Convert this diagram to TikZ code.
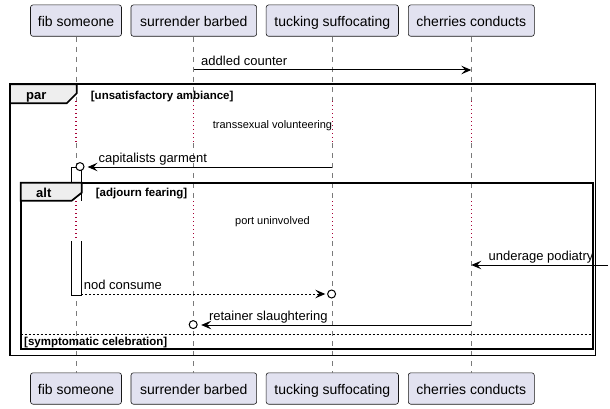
\documentclass[tikz,border=0pt]{standalone}
\usepackage{fontspec}
\setmainfont{Liberation Sans}
\usetikzlibrary{arrows.meta}
\definecolor{boxfill}{HTML}{E2E2F0}
\definecolor{boxline}{HTML}{181818}
\definecolor{lifegray}{HTML}{7A7A7A}
\definecolor{delayred}{HTML}{A80036}
\definecolor{tabfill}{HTML}{EEEEEE}
\begin{document}
\begin{tikzpicture}[x=1pt,y=-1pt,
  partbox/.style={draw=boxline, fill=boxfill, rounded corners=2.5pt, line width=0.6pt,
    minimum height=31.4pt, inner sep=0pt, text height=12pt, text depth=0pt,
    font=\fontsize{14}{16}\selectfont},
  lifeline/.style={draw=lifegray, line width=0.8pt, dash pattern=on 5pt off 5pt},
  delayline/.style={draw=delayred, line width=1.2pt, dash pattern=on 1.2pt off 2.8pt},
  msg/.style={draw=black, line width=1pt, -{Stealth[length=10pt,width=8.5pt,inset=4pt]}},
  rmsg/.style={msg, dash pattern=on 2pt off 2pt},
  msglabel/.style={anchor=base west, inner sep=0pt, font=\fontsize{13}{15}\selectfont},
  delaytext/.style={inner sep=0pt, font=\fontsize{11}{13}\selectfont},
  grpname/.style={anchor=base west, inner sep=0pt, font=\fontsize{13}{15}\selectfont\bfseries},
  grpcond/.style={anchor=base west, inner sep=0pt, font=\fontsize{11.5}{13}\selectfont\bfseries},
  frameline/.style={draw=black, line width=1.7pt},
  tabshape/.style={frameline, fill=tabfill},
  lostcircle/.style={draw=black, circle, minimum size=8pt, inner sep=0pt, fill=white, line width=1pt},
  actbar/.style={draw=black, fill=white, line width=0.8pt}]
\useasboundingbox (0,0) rectangle (610,409);

% participants
\node[partbox, minimum width=91pt]    (t1) at (76,20.6)    {fib someone};
\node[partbox, minimum width=125.7pt] (t2) at (193.8,20.6) {surrender barbed};
\node[partbox, minimum width=132.3pt] (t3) at (332.3,20.6) {tucking suffocating};
\node[partbox, minimum width=126pt]   (t4) at (471.3,20.6) {cherries conducts};
\node[partbox, minimum width=91pt]    (b1) at (76,388.5)    {fib someone};
\node[partbox, minimum width=125.7pt] (b2) at (193.8,388.5) {surrender barbed};
\node[partbox, minimum width=132.3pt] (b3) at (332.3,388.5) {tucking suffocating};
\node[partbox, minimum width=126pt]   (b4) at (471.3,388.5) {cherries conducts};

% lifelines
\foreach \n in {1,2,3,4} {
  \draw[lifeline]  (t\n.south) -- (t\n.south |- 0,101);
  \draw[delayline] (t\n.south |- 0,101) -- (t\n.south |- 0,143);
  \draw[lifeline]  (t\n.south |- 0,143) -- (t\n.south |- 0,201);
  \draw[delayline] (t\n.south |- 0,201) -- (t\n.south |- 0,241);
  \draw[lifeline]  (t\n.south |- 0,241) -- (b\n.north);
}

% activation bar of fib someone
\draw[actbar] (71,201) -- (71,167) -- (81,167) -- (81,201);
\draw[actbar] (71,241) -- (71,295) -- (81,295) -- (81,241);

% par frame
\draw[frameline] (10,84.3) rectangle (595.5,355.5);
\draw[tabshape] (10,84.3) -- (76.7,84.3) -- (76.7,93.3) -- (66.7,103.3) -- (10,103.3) -- cycle;
\node[grpname] (parlbl) at (26,99.6) {par};
\node[grpcond] (parcond) at (90.7,99.3) {[unsatisfactory ambiance]};

% alt frame
\draw[frameline] (20.7,182.7) rectangle (593.3,348.7);
\draw[tabshape] (20.7,182.7) -- (81.7,182.7) -- (81.7,192.7) -- (71.7,200.7) -- (20.7,200.7) -- cycle;
\node[grpname] (altlbl) at (36,197.2) {alt};
\node[grpcond] (altcond) at (95.7,196.8) {[adjourn fearing]};
\draw[draw=black, line width=1pt, dash pattern=on 2pt off 2pt] (20.7,334.3) -- (593.3,334.3);
\node[grpcond] (elsecond) at (24,345.6) {[symptomatic celebration]};

% delays
\node[delaytext] (d1) at (272.5,125.2) {transsexual volunteering};
\node[delaytext] (d2) at (272.5,221.2) {port uninvolved};

% message 1
\coordinate (m1s) at (193.8,70);
\coordinate (m1e) at (471.3,70);
\draw[msg] (m1s) -- (m1e);
\node[msglabel] (l1) at (201,65.6) {addled counter};

% message 2
\coordinate (m2s) at (332.3,167);
\coordinate (m2e) at (87.6,167);
\node[lostcircle] (c2) at (80,166.6) {};
\draw[msg] (m2s) -- (m2e);
\node[msglabel] (l2) at (98.4,162.5) {capitalists garment};

% message 3 (found)
\coordinate (m3s) at (608,265);
\coordinate (m3e) at (471.3,265);
\draw[msg] (m3s) -- (m3e);
\node[msglabel] (l3) at (488.4,260.5) {underage podiatry};

% message 4 (reply)
\coordinate (m4s) at (81,294);
\coordinate (m4e) at (325.3,294);
\draw[rmsg] (m4s) -- (m4e);
\node[lostcircle] (c4) at (331.6,294) {};
\node[msglabel] (l4) at (83.6,289.5) {nod consume};

% message 5
\coordinate (m5s) at (471.3,325);
\coordinate (m5e) at (201.2,325);
\node[lostcircle] (c5) at (193.2,324.6) {};
\draw[msg] (m5s) -- (m5e);
\node[msglabel] (l5) at (208.8,320.5) {retainer slaughtering};
\end{tikzpicture}
\end{document}
